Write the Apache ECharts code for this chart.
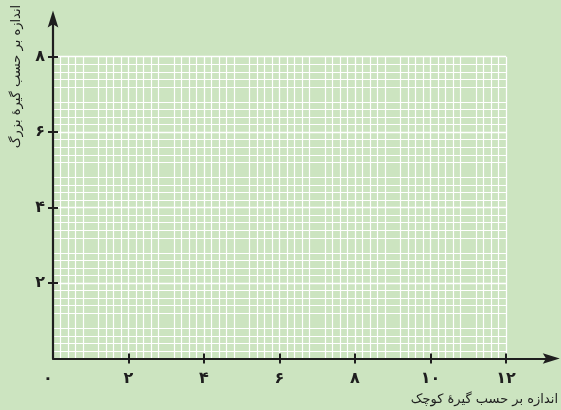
<!DOCTYPE html>
<html>
<head>
<meta charset="utf-8">
<script src="https://cdn.jsdelivr.net/npm/echarts@6/dist/echarts.min.js"></script>
<style>
html,body{margin:0;padding:0;background:#cce4c0;}
#c{width:561px;height:410px;}
</style>
</head>
<body>
<div id="c"></div>
<script>
// Data
const xTickValues = [0, 2, 4, 6, 8, 10, 12];
const xTickLabels = ['۰', '۲', '۴', '۶', '۸', '۱۰', '۱۲'];
const yTickValues = [2, 4, 6, 8];
const yTickLabels = ['۲', '۴', '۶', '۸'];
const paperX = [0, 12];   // grid paper extent
const paperY = [0, 8];
const axisX = [0, 13.2];  // drawn axis extent (arrow)
const axisY = [0, 9];
const xName = 'اندازه بر حسب گیرهٔ کوچک';
const yName = 'اندازه بر حسب گیرهٔ بزرگ';

const FONT = 'DejaVu Sans';
const INK = '#1e1e1e';
const arrowPath = 'path://M5,0 L10,16 L5,13 L0,16 Z';

const chart = echarts.init(document.getElementById('c'), null, {renderer: 'canvas'});

const xLabelMap = {};
xTickValues.forEach((v, i) => xLabelMap[v] = xTickLabels[i]);
const yLabelMap = {};
yTickValues.forEach((v, i) => yLabelMap[v] = yTickLabels[i]);

const option = {
  backgroundColor: '#cce4c0',
  animation: false,
  grid: [
    {left: 53, right: 55, top: 56.7, bottom: 51.5},
    {left: 53, right: 9.7, top: 19, bottom: 51.5}
  ],
  xAxis: [
    {
      type: 'value', gridIndex: 0, min: paperX[0], max: paperX[1], interval: 1,
      axisLine: {show: false},
      axisLabel: {show: false},
      axisTick: {show: true, inside: true, length: 5, customValues: xTickValues.filter(v => v > 0),
        lineStyle: {color: INK, width: 2}},
      minorTick: {show: false, splitNumber: 5},
      splitLine: {show: true, lineStyle: {color: '#ffffff', width: 1.3}},
      minorSplitLine: {show: true, lineStyle: {color: '#ffffff', width: 1.2}}
    },
    {
      type: 'value', gridIndex: 1, min: axisX[0], max: axisX[1],
      axisLine: {show: true, symbol: ['none', arrowPath], symbolSize: [12, 17],
        lineStyle: {color: INK, width: 2.2}},
      axisTick: {show: true, inside: false, length: 5, customValues: xTickValues.filter(v => v > 0),
        lineStyle: {color: INK, width: 2}},
      axisLabel: {
        show: true, customValues: xTickValues, margin: 12,
        formatter: v => v === 0 ? '{z|' + xLabelMap[v] + '}' : (xLabelMap[v] || ''),
        color: INK, fontFamily: FONT, fontSize: 16, fontWeight: 'bold',
        rich: {z: {color: INK, fontFamily: FONT, fontSize: 16, fontWeight: 'bold', padding: [0, 10, 0, 0]}}
      },
      splitLine: {show: false}
    }
  ],
  yAxis: [
    {
      type: 'value', gridIndex: 0, min: paperY[0], max: paperY[1], interval: 1,
      axisLine: {show: false},
      axisLabel: {show: false},
      axisTick: {show: true, inside: true, length: 5, customValues: yTickValues,
        lineStyle: {color: INK, width: 2}},
      minorTick: {show: false, splitNumber: 5},
      splitLine: {show: true, lineStyle: {color: '#ffffff', width: 1.3}},
      minorSplitLine: {show: true, lineStyle: {color: '#ffffff', width: 1.2}}
    },
    {
      type: 'value', gridIndex: 1, min: axisY[0], max: axisY[1],
      axisLine: {show: true, symbol: ['none', arrowPath], symbolSize: [13, 17],
        lineStyle: {color: INK, width: 2.2}},
      axisTick: {show: true, inside: false, length: 5, customValues: yTickValues,
        lineStyle: {color: INK, width: 2}},
      axisLabel: {
        show: true, customValues: yTickValues, margin: 8,
        formatter: v => yLabelMap[v] || '',
        color: INK, fontFamily: FONT, fontSize: 16, fontWeight: 'bold'
      },
      splitLine: {show: false}
    }
  ],
  series: [],
  graphic: [
    {
      type: 'text', x: 17, y: 76.5, rotation: Math.PI / 2,
      style: {text: yName, fill: INK, font: '13px "' + FONT + '"', align: 'center', verticalAlign: 'middle'}
    },
    {
      type: 'text', x: 558, y: 400,
      style: {text: xName, fill: INK, font: '13px "' + FONT + '"', align: 'right', verticalAlign: 'middle'}
    }
  ]
};
chart.setOption(option);
</script>
</body>
</html>
